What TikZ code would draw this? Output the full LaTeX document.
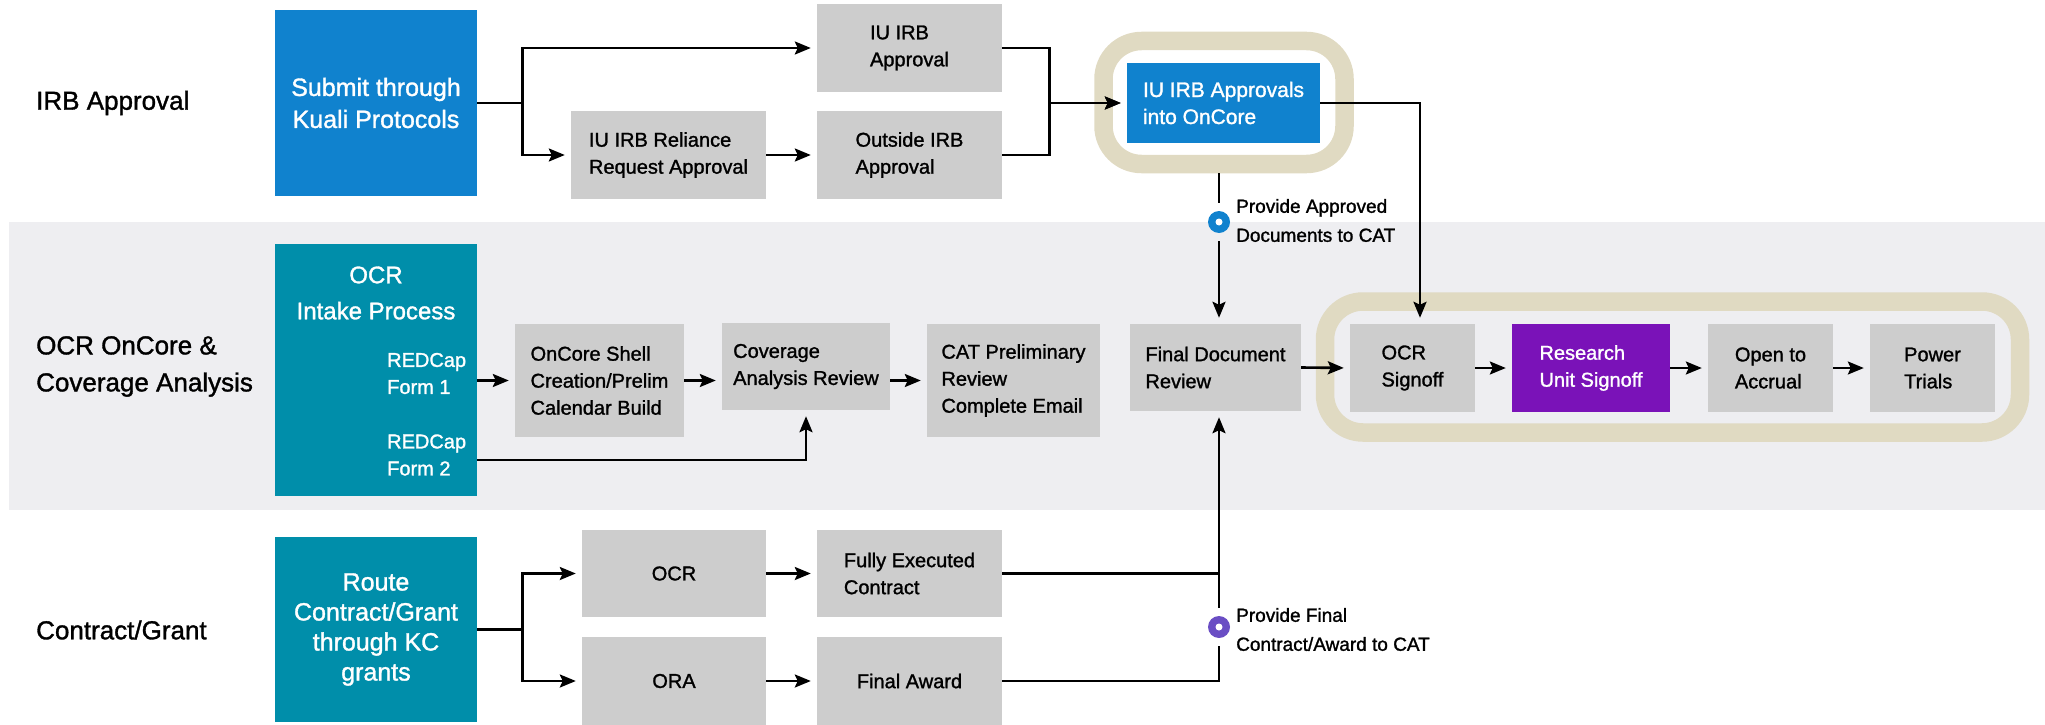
\documentclass[tikz,border=0pt]{standalone}
\usepackage{fontspec}
\setmainfont{Liberation Sans}[FakeBold=1.3]
\usetikzlibrary{arrows.meta,calc}
\definecolor{bxblue}{RGB}{16,130,206}
\definecolor{bxteal}{RGB}{0,142,170}
\definecolor{bxgrey}{RGB}{205,205,205}
\definecolor{bxpurple}{RGB}{122,18,184}
\definecolor{bandgrey}{RGB}{238,238,241}
\definecolor{ringtan}{RGB}{224,218,194}
\definecolor{dotpurple}{RGB}{106,78,196}
\begin{document}
\begin{tikzpicture}[x=1pt,y=-1pt,
  box/.style={rectangle, inner sep=0pt, align=left, font=\fontsize{20}{27}\selectfont},
  greybox/.style={box, fill=bxgrey, text=black},
  bluebox/.style={box, fill=bxblue, text=white},
  tealbox/.style={box, fill=bxteal, text=white},
  purplebox/.style={box, fill=bxpurple, text=white},
  ringbox/.style={rectangle, draw=ringtan, line width=18.5pt, rounded corners=38pt, inner sep=0pt},
  lane/.style={anchor=west, align=left, inner sep=0pt, font=\fontsize{26}{37}\selectfont},
  note/.style={anchor=west, align=left, inner sep=0pt, font=\fontsize{19}{29}\selectfont},
  ln/.style={line width=2.6pt, draw=black},
  arr/.style={ln, -{Stealth[length=16pt,width=13pt,inset=3pt]}, shorten >=6pt},
  dotnode/.style={circle, inner sep=0pt, minimum size=22pt},
]
\useasboundingbox (0,0) rectangle (2045,725);
% middle band
\fill[bandgrey] (9,222) rectangle (2045,510);

% highlight rings
\node[ringbox, minimum width=241pt, minimum height=123pt] (ring1) at (1224,102.5) {};
\node[ringbox, minimum width=695pt, minimum height=131pt] (ring2) at (1672.5,367) {};

% lane labels
\node[lane] (lab1) at (36,103) {IRB Approval};
\node[lane] (lab2) at (36,366.5) {OCR OnCore \&\\Coverage Analysis};
\node[lane] (lab3) at (36,630) {Contract/Grant};

% IRB row
\node[bluebox, align=center, font=\fontsize{25}{32}\selectfont, minimum width=202pt, minimum height=186pt] (submit) at (376,103) {Submit through\\Kuali Protocols};
\node[greybox, minimum width=195pt, minimum height=88pt] (rel) at (668.5,155) {IU IRB Reliance\\Request Approval};
\node[greybox, minimum width=185pt, minimum height=88pt] (iuirb) at (909.5,48) {IU IRB\\Approval};
\node[greybox, minimum width=185pt, minimum height=88pt] (outirb) at (909.5,155) {Outside IRB\\Approval};
\node[bluebox, font=\fontsize{21}{27}\selectfont, minimum width=193pt, minimum height=80pt] (oncore) at (1223.5,103) {IU IRB Approvals\\into OnCore};

% OCR row
\node[tealbox, minimum width=202pt, minimum height=252pt] (intake) at (376,370) {};
\node[align=center, text=white, inner sep=0pt, font=\fontsize{24}{36}\selectfont] (intaket) at (376,293) {OCR\\Intake Process};
\node[anchor=west, align=left, text=white, inner sep=0pt, font=\fontsize{20}{27}\selectfont] (f1) at (387,373.5) {REDCap\\Form 1};
\node[anchor=west, align=left, text=white, inner sep=0pt, font=\fontsize{20}{27}\selectfont] (f2) at (387,455) {REDCap\\Form 2};
\node[greybox, minimum width=169pt, minimum height=113pt] (shell) at (599.5,380.5) {OnCore Shell\\Creation/Prelim\\Calendar Build};
\node[greybox, minimum width=168pt, minimum height=87pt] (cov) at (806,366.5) {Coverage\\Analysis Review};
\node[greybox, minimum width=173pt, minimum height=113pt] (cat) at (1013.5,380.5) {CAT Preliminary\\Review\\Complete Email};
\node[greybox, minimum width=171pt, minimum height=87pt] (fdr) at (1215.5,367.5) {Final Document\\Review};
\node[greybox, minimum width=125pt, minimum height=88pt] (ocrs) at (1412.5,368) {OCR\\Signoff};
\node[purplebox, minimum width=158pt, minimum height=88pt] (rus) at (1591,368) {Research\\Unit Signoff};
\node[greybox, minimum width=125pt, minimum height=88pt] (ota) at (1770.5,368) {Open to\\Accrual};
\node[greybox, minimum width=125pt, minimum height=88pt] (pt) at (1932.5,368) {Power\\Trials};

% Contract row
\node[tealbox, align=center, font=\fontsize{25}{30}\selectfont, minimum width=202pt, minimum height=185pt] (route) at (376,629.5) {Route\\Contract/Grant\\through KC\\grants};
\node[greybox, minimum width=184pt, minimum height=87pt] (ocr) at (674,573.5) {OCR};
\node[greybox, minimum width=184pt, minimum height=88pt] (ora) at (674,681) {ORA};
\node[greybox, minimum width=185pt, minimum height=87pt] (fec) at (909.5,573.5) {Fully Executed\\Contract};
\node[greybox, minimum width=185pt, minimum height=88pt] (fa) at (909.5,681) {Final Award};

% dots and notes
\node[dotnode, fill=bxblue] (bdot) at (1219,222) {};
\fill[white] (bdot.center) circle (3.5pt);
\node[note] (bnote) at (1236,220.5) {Provide Approved\\Documents to CAT};
\node[dotnode, fill=dotpurple] (pdot) at (1219,627) {};
\fill[white] (pdot.center) circle (3.5pt);
\node[note] (pnote) at (1236,629.5) {Provide Final\\Contract/Award to CAT};

% IRB connectors
\draw[arr] (submit.east) -- ++(45,0) |- (iuirb.west);
\draw[arr] (submit.east) -- ++(45,0) |- (rel.west);
\draw[arr] (rel.east) -- (outirb.west);
\draw[arr] (iuirb.east) -- ++(47,0) |- (oncore.west);
\draw[arr] (outirb.east) -- ++(47,0) |- (oncore.west);
\draw[arr] (oncore.east) -| ([xshift=7.5pt]ocrs.north);
\draw[ln, shorten >=8pt] (ring1.south -| bdot) -- (bdot);
\draw[arr, shorten <=8pt] (bdot) -- (bdot |- fdr.north);

% OCR connectors
\draw[arr] (intake.east |- shell.west) -- (shell.west);
\draw[arr] (shell.east) -- (shell.east -| cov.west);
\draw[arr] (cov.east |- cat.west) -- (cat.west);
\draw[arr] ($(intake.east |- f2.center)+(0,5)$) -| (cov.south);
\draw[arr] (fdr.east) -- (ocrs.west);
\draw[arr] (ocrs.east) -- (rus.west);
\draw[arr] (rus.east) -- (ota.west);
\draw[arr] (ota.east) -- (pt.west);

% Contract connectors
\draw[arr] (route.east) -- ++(45,0) |- (ocr.west);
\draw[arr] (route.east) -- ++(45,0) |- (ora.west);
\draw[arr] (ocr.east) -- (fec.west);
\draw[arr] (ora.east) -- (fa.west);
\draw[ln] (fec.east) -- (fec.east -| pdot);
\draw[ln, shorten >=8pt] (fa.east) -| (pdot);
\draw[arr, shorten <=8pt] (pdot) -- (pdot |- fdr.south);
\end{tikzpicture}
\end{document}
